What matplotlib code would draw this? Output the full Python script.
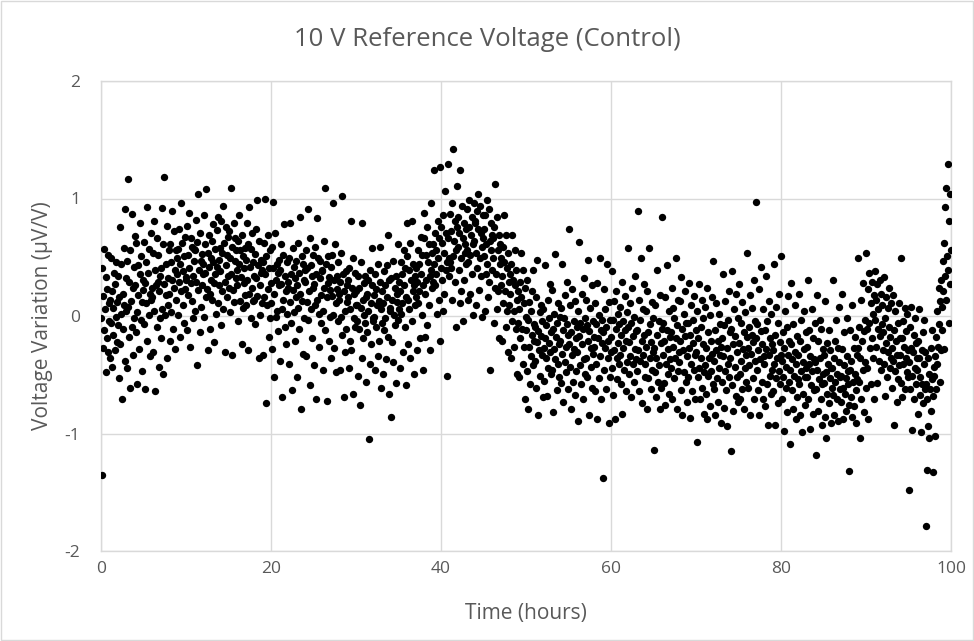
import matplotlib
matplotlib.use("Agg")
import matplotlib.pyplot as plt
from matplotlib.patches import Rectangle

# Voltage variation (uV/V), read off the chart hour by hour.
# Each inner list holds the samples logged during one hour.
hours_00_09 = [
    [-0.02, 0.41, -1.35, 0.17, -0.27, 0.57, -0.12, 0.06, -0.48, 0.33, -0.19, 0.23, 0.52, -0.31, 0.11, -0.04],
    [0.14, -0.36, 0.49, -0.06, 0.21, -0.43, 0.07, -0.16, 0.37, -0.29, 0.27, -0.01, 0.46, -0.22, 0.12, -0.08],
    [0.34, -0.53, 0.16, 0.76, -0.24, 0.02, 0.44, -0.71, 0.19, -0.11, 0.58, 0.09, -0.38, 0.91, 0.32, 0.04],
    [-0.44, 0.47, 0.08, 1.17, -0.18, 0.29, -0.61, 0.56, 0.13, -0.09, 0.87, 0.24, -0.33, 0.42, -0.02, 0.68],
    [0.26, -0.14, 0.62, 0.03, -0.58, 0.43, 0.18, -0.28, 0.79, 0.36, -0.03, 0.51, 0.12, -0.47, 0.31, 0.22],
    [0.63, -0.07, 0.28, -0.62, 0.46, 0.11, 0.93, -0.21, 0.37, 0.01, 0.57, -0.34, 0.19, 0.71, 0.14, 0.24],
    [0.16, 0.54, -0.31, 0.81, 0.04, 0.39, -0.64, 0.26, 0.66, -0.09, 0.29, 0.52, -0.43, 0.21, -0.02, 0.34],
    [0.41, -0.19, 0.92, 0.06, 0.61, -0.49, 0.27, 1.18, 0.01, 0.44, 0.18, -0.36, 0.77, 0.32, 0.09, 0.56],
    [0.19, 0.61, -0.21, 0.46, 0.03, 0.89, 0.31, -0.11, 0.72, 0.24, 0.39, -0.28, 0.56, 0.14, 0.49, 0.36],
    [0.57, 0.01, 0.74, 0.29, -0.18, 0.44, 0.96, 0.21, 0.62, 0.09, 0.38, -0.06, 0.51, 0.23, 0.67, 0.33],
]
hours_10_19 = [
    [0.31, 0.77, -0.12, 0.52, 0.18, 0.88, 0.41, -0.26, 0.66, 0.28, 0.13, 0.59, 0.34, -0.02, 0.47, 0.57],
    [0.56, 0.04, 0.82, 0.29, -0.42, 0.63, 0.22, 1.04, 0.39, -0.14, 0.71, 0.08, 0.47, 0.26, 0.53, 0.36],
    [0.44, 0.86, -0.01, 0.37, 0.61, 0.16, 1.08, 0.23, -0.29, 0.54, 0.42, 0.69, 0.19, -0.11, 0.49, 0.31],
    [0.64, 0.14, 0.46, 0.78, 0.28, -0.22, 0.57, 0.36, 0.02, 0.73, 0.42, 0.84, 0.11, 0.48, 0.26, 0.58],
    [0.38, -0.08, 0.81, 0.21, 0.54, 0.94, 0.06, 0.62, 0.29, -0.31, 0.76, 0.43, 0.16, 0.52, 0.34, 0.67],
    [0.24, 0.72, 0.03, 0.49, 1.09, 0.36, -0.33, 0.59, 0.22, 0.79, 0.12, 0.47, 0.66, 0.32, 0.56, 0.39],
    [0.26, 0.64, -0.04, 0.44, 0.86, 0.13, 0.56, 0.33, -0.24, 0.69, 0.07, 0.51, 0.28, 0.41, 0.58, 0.18],
    [0.48, 0.09, 0.79, 0.31, -0.29, 0.61, 0.19, 0.93, 0.42, -0.02, 0.57, 0.24, 0.71, 0.13, 0.46, 0.34],
    [0.14, 0.53, -0.07, 0.74, 0.32, 0.99, 0.17, 0.43, -0.36, 0.64, 0.26, 0.01, 0.48, 0.37, 0.11, 0.39],
    [0.46, -0.33, 0.62, 0.16, 1.00, 0.36, -0.74, 0.51, 0.09, 0.69, 0.23, -0.18, 0.41, -0.02, 0.56, 0.28],
]
hours_20_29 = [
    [0.11, 0.59, -0.28, 0.41, 0.97, 0.19, -0.52, 0.71, 0.31, -0.01, 0.44, 0.04, 0.37, -0.13, 0.26, 0.48],
    [0.39, -0.38, 0.27, 0.61, 0.06, -0.69, 0.52, 0.14, 0.78, -0.09, 0.34, 0.21, -0.24, 0.46, 0.02, 0.29],
    [0.24, -0.41, 0.49, 0.12, 0.79, -0.06, 0.36, -0.63, 0.22, 0.58, 0.03, 0.42, -0.21, 0.32, 0.16, 0.47],
    [-0.52, 0.26, 0.07, 0.62, 0.37, -0.11, 0.84, 0.19, -0.79, 0.51, 0.13, -0.32, 0.44, -0.02, 0.31, 0.39],
    [0.29, 0.56, -0.34, 0.12, 0.41, -0.03, 0.91, 0.21, -0.59, 0.66, 0.06, 0.43, -0.19, 0.34, 0.24, 0.52],
    [0.27, -0.42, 0.09, 0.59, 0.36, -0.71, 0.14, 0.83, 0.49, -0.26, 0.02, 0.32, 0.47, -0.06, 0.18, 0.39],
    [0.38, 0.04, -0.46, 0.64, 0.24, 1.09, -0.12, 0.44, 0.16, -0.72, 0.51, 0.28, -0.21, 0.33, -0.01, 0.22],
    [0.42, -0.36, 0.17, 0.52, 0.01, 0.96, 0.31, -0.27, 0.61, 0.11, -0.48, 0.34, 0.23, -0.04, 0.46, 0.19],
    [0.14, -0.46, 0.29, -0.01, 0.54, -0.16, 1.02, 0.36, -0.69, 0.21, 0.04, -0.31, 0.38, -0.11, 0.26, 0.12],
    [0.31, 0.16, -0.44, 0.41, -0.21, 0.06, 0.81, -0.29, 0.24, -0.66, 0.49, -0.02, 0.19, -0.09, 0.37, 0.09],
]
hours_30_39 = [
    [0.21, -0.04, 0.09, -0.51, 0.34, -0.11, 0.24, -0.76, 0.46, 0.07, -0.36, 0.79, 0.14, -0.19, 0.28, 0.01],
    [0.34, -0.06, 0.16, -0.56, 0.19, -0.14, 0.31, 0.04, -1.05, 0.39, -0.41, 0.11, -0.24, 0.58, 0.26, -0.02],
    [-0.04, 0.18, -0.01, -0.46, 0.36, -0.09, 0.23, 0.09, -0.34, 0.44, 0.13, -0.21, 0.59, 0.29, -0.61, 0.06],
    [-0.06, 0.21, 0.11, -0.49, 0.38, -0.12, 0.26, -0.02, -0.37, 0.43, 0.16, -0.18, 0.69, 0.31, -0.66, 0.04],
    [0.07, -0.86, 0.32, -0.22, 0.14, 0.47, -0.39, 0.01, 0.24, -0.08, 0.34, -0.57, 0.12, 0.19, 0.61, -0.03],
    [0.06, 0.29, 0.21, -0.44, 0.46, 0.02, 0.36, 0.11, -0.31, 0.56, 0.26, -0.09, 0.41, 0.16, -0.59, 0.79],
    [0.51, -0.24, 0.14, 0.39, 0.06, 0.62, -0.36, 0.31, 0.81, -0.04, 0.44, 0.21, -0.49, 0.26, 0.34, 0.09],
    [0.16, 0.41, 0.29, -0.29, 0.56, 0.11, 0.44, 0.21, -0.19, 0.67, 0.36, 0.01, 0.52, 0.26, -0.46, 0.88],
    [0.66, 0.19, -0.18, 0.52, 0.31, 0.76, -0.08, 0.46, 0.09, 0.61, 0.34, -0.29, 0.96, 0.39, 0.54, 0.24],
    [0.29, 0.61, 0.44, 1.24, 0.71, 0.26, 0.56, 0.36, 0.02, 0.81, 0.49, 0.14, 0.66, -0.21, 1.27, 0.41],
]
hours_40_49 = [
    [0.76, 0.31, 0.62, 0.04, 0.86, 0.54, 0.19, 1.06, 0.39, 0.71, -0.51, 0.46, 0.66, 1.29, 0.49, 0.34],
    [0.46, 0.87, 0.41, 0.72, 0.14, 0.96, 0.51, 1.42, 0.64, 0.29, 0.81, -0.09, 0.56, 1.11, 0.76, 0.59],
    [0.84, 0.39, 0.71, 0.11, 1.24, 0.49, 0.21, 0.94, 0.66, -0.04, 0.79, 0.31, 0.54, 0.61, 0.74, 0.44],
    [0.56, 0.91, 0.46, 0.14, 0.76, 0.99, 0.52, 0.19, 0.69, 0.36, 0.84, 0.01, 0.61, 0.96, 0.64, 0.81],
    [0.79, 0.54, 0.09, 0.89, 0.41, 0.74, 1.04, 0.22, 0.49, 0.94, 0.34, 0.71, -0.01, 0.59, 0.86, 0.66],
    [0.51, 0.74, 0.86, 0.04, 0.61, 0.36, 0.99, 0.44, 0.16, 0.91, 0.29, 0.64, -0.46, 0.79, 0.56, 0.69],
    [0.39, 0.66, 0.49, -0.06, 0.76, 0.24, 1.12, 0.36, 0.06, 0.84, 0.56, 0.21, -0.19, 0.69, 0.44, 0.61],
    [0.26, 0.49, 0.34, -0.21, 0.59, 0.11, 0.86, 0.46, 0.21, -0.09, 0.69, 0.41, 0.04, 0.54, -0.31, 0.29],
    [0.09, 0.36, 0.19, -0.36, 0.44, -0.04, 0.69, 0.31, 0.04, -0.26, 0.56, 0.26, -0.11, 0.39, -0.49, 0.14],
    [-0.06, 0.21, 0.06, -0.52, 0.29, -0.19, 0.54, 0.16, -0.11, -0.41, 0.39, 0.11, -0.26, 0.24, -0.71, -0.01],
]
hours_50_59 = [
    [-0.12, 0.31, -0.47, -0.03, -0.79, 0.12, -0.26, -0.58, 0.04, -0.34, 0.21, -0.16, -0.42, 0.39, -0.07, -0.21],
    [-0.38, -0.09, 0.16, -0.61, -0.22, 0.48, -0.13, -0.84, -0.29, 0.03, -0.51, -0.17, 0.09, -0.33, -0.04, -0.69],
    [0.06, -0.27, -0.55, 0.43, -0.19, -0.36, -0.08, -0.68, 0.14, -0.44, -0.23, -0.02, -0.31, 0.27, -0.49, -0.14],
    [-0.46, 0.22, -0.11, -0.82, -0.28, 0.02, -0.37, 0.53, -0.18, -0.63, -0.06, -0.41, 0.11, -0.24, -0.52, -0.01],
    [-0.21, -0.57, 0.07, -0.32, 0.44, -0.12, -0.73, -0.02, -0.39, 0.18, -0.26, -0.48, -0.07, 0.29, -0.16, -0.62],
    [0.74, -0.24, -0.43, 0.09, -0.79, -0.14, -0.33, 0.23, -0.56, -0.04, -0.28, -0.67, 0.13, -0.19, -0.47, -0.09],
    [-0.31, 0.04, -0.89, -0.17, 0.63, -0.42, -0.06, -0.58, 0.19, -0.24, -0.71, -0.11, 0.32, -0.37, -0.02, -0.49],
    [0.14, -0.36, -0.08, -0.52, 0.48, -0.21, -0.84, -0.13, 0.07, -0.43, -0.27, 0.26, -0.61, -0.04, -0.32, -0.18],
    [-0.26, -0.64, 0.11, -0.41, -0.07, -0.88, 0.28, -0.19, -0.53, 0.01, -0.34, 0.49, -0.12, -0.71, -0.23, -0.03],
    [-1.38, -0.14, 0.23, -0.46, -0.27, 0.06, -0.62, -0.09, 0.44, -0.36, -0.21, -0.91, 0.12, -0.52, -0.03, -0.31],
]
hours_60_69 = [
    [-0.18, 0.38, -0.44, -0.03, -0.67, 0.13, -0.29, -0.88, -0.11, 0.21, -0.36, -0.54, 0.02, -0.23, -0.07, -0.41],
    [-0.33, 0.08, -0.58, -0.16, 0.29, -0.83, -0.04, -0.27, -0.46, 0.17, -0.12, -0.64, -0.21, 0.03, -0.39, -0.09],
    [0.58, -0.22, -0.49, 0.11, -0.34, -0.06, -0.69, 0.24, -0.17, -0.41, -0.01, -0.56, 0.34, -0.28, -0.13, -0.37],
    [-0.12, -0.47, 0.89, -0.29, 0.14, -0.64, -0.03, -0.38, 0.49, -0.21, -0.74, 0.06, -0.33, -0.16, 0.27, -0.52],
    [-0.41, 0.04, -0.26, -0.79, 0.21, -0.53, -0.14, 0.58, -0.36, -0.07, -0.62, -0.22, 0.12, -0.46, -0.31, -0.02],
    [-0.27, -1.14, -0.48, 0.09, -0.36, -0.69, -0.16, 0.39, -0.56, -0.04, -0.42, -0.79, 0.18, -0.23, -0.61, -0.11],
    [0.84, -0.33, -0.06, -0.57, -0.21, 0.16, -0.76, -0.41, 0.43, -0.12, -0.49, -0.28, 0.04, -0.66, -0.18, -0.37],
    [-0.14, -0.44, 0.24, -0.71, -0.26, 0.07, -0.53, -0.02, -0.36, 0.49, -0.19, -0.79, -0.08, 0.14, -0.47, -0.31],
    [-0.39, 0.13, -0.21, -0.63, 0.33, -0.11, -0.84, -0.29, 0.02, -0.48, -0.17, 0.21, -0.56, -0.06, -0.34, -0.73],
    [-0.06, -0.52, -0.27, 0.28, -0.87, -0.16, -0.41, 0.09, -0.64, -0.23, -0.03, -0.46, 0.17, -0.33, -0.71, -0.12],
]
hours_70_79 = [
    [-0.31, -1.07, 0.04, -0.52, -0.19, 0.27, -0.44, -0.71, -0.09, -0.36, 0.14, -0.61, -0.24, -0.02, -0.48, -0.83],
    [-0.42, 0.08, -0.66, -0.27, -0.88, 0.24, -0.14, -0.51, -0.36, 0.01, -0.77, -0.21, -0.47, 0.16, -0.32, -0.58],
    [0.47, -0.38, -0.62, -0.12, -0.84, -0.29, 0.11, -0.53, -0.21, -0.73, 0.02, -0.44, -0.33, -0.07, -0.91, -0.26],
    [-0.19, -0.56, 0.36, -0.34, -0.78, -0.08, -0.47, 0.13, -0.63, -0.27, -0.94, -0.03, -0.41, 0.21, -0.52, -0.14],
    [-0.36, -1.15, -0.11, 0.38, -0.59, -0.24, -0.81, 0.06, -0.43, -0.17, -0.68, 0.19, -0.31, -0.52, -0.02, -0.73],
    [-0.23, 0.27, -0.49, -0.71, -0.06, -0.38, 0.12, -0.62, -0.28, -0.79, -0.14, 0.03, -0.44, -0.33, -0.56, -0.18],
    [0.54, -0.27, -0.61, -0.09, -0.42, 0.18, -0.84, -0.32, -0.16, 0.07, -0.53, -0.22, -0.71, 0.31, -0.38, -0.04],
    [-0.19, 0.97, -0.46, -0.07, -0.63, -0.29, 0.23, -0.84, -0.37, 0.42, -0.13, -0.56, -0.24, 0.06, -0.71, -0.34],
    [-0.41, -0.12, -0.77, 0.34, -0.28, -0.58, -0.04, -0.93, -0.33, 0.13, -0.51, -0.19, -0.66, 0.02, -0.46, -0.24],
    [-0.29, -0.64, 0.44, -0.41, -0.93, -0.16, -0.53, 0.08, -0.36, -0.74, -0.06, -0.47, 0.19, -0.22, -0.58, -0.33],
]
hours_80_89 = [
    [0.51, -0.38, -0.71, -0.14, -0.52, -0.98, -0.27, 0.04, -0.61, -0.43, -0.09, -0.82, -0.33, 0.17, -0.56, -0.21],
    [-0.46, -1.09, -0.24, 0.28, -0.63, -0.37, -0.79, -0.07, -0.51, -0.31, 0.09, -0.88, -0.41, -0.17, -0.69, -0.54],
    [-0.33, 0.19, -0.58, -0.84, -0.21, -0.47, -0.03, -0.99, -0.39, -0.66, 0.04, -0.28, -0.52, -0.76, -0.14, -0.44],
    [-0.52, -0.26, 0.31, -0.71, -0.41, -0.12, -0.96, -0.34, -0.59, 0.06, -0.47, -0.83, -0.19, -0.63, -0.37, -0.06],
    [-0.39, -1.18, -0.62, 0.18, -0.46, -0.21, -0.81, -0.54, -0.03, -0.36, -0.71, -0.11, -0.58, -0.93, -0.28, -0.49],
    [-0.57, -0.33, -0.86, 0.13, -0.48, -1.04, -0.23, -0.66, -0.41, -0.12, -0.74, -0.53, -0.29, -0.91, -0.44, -0.61],
    [-0.44, 0.31, -0.67, -0.36, -0.84, -0.21, -0.56, -0.03, -0.71, -0.49, -0.27, -0.89, -0.39, 0.08, -0.62, -0.52],
    [-0.51, -0.73, -0.28, 0.19, -0.61, -0.88, -0.42, -0.14, -0.66, -0.53, -0.81, -0.34, -0.02, -0.58, -0.47, -0.76],
    [-1.32, -0.46, -0.12, -0.69, -0.38, -0.86, 0.09, -0.56, -0.27, -0.77, -0.49, -0.18, -0.63, -0.91, -0.33, -0.54],
    [-0.27, 0.49, -0.56, -0.09, -1.04, -0.36, 0.14, -0.71, -0.21, -0.46, 0.28, -0.82, -0.13, -0.39, -0.03, -0.61],
]
hours_90_99 = [
    [0.54, -0.11, -0.44, 0.23, -0.88, -0.06, 0.37, -0.27, -0.58, 0.11, -0.19, 0.29, -0.36, 0.02, -0.71, 0.18],
    [-0.03, 0.38, -0.26, 0.14, -0.57, 0.27, -0.11, 0.06, -0.38, 0.31, -0.17, -0.46, 0.19, -0.07, 0.09, -0.29],
    [-0.14, 0.33, -0.41, -0.02, -0.68, 0.16, -0.23, -0.52, 0.07, -0.31, 0.24, -0.09, -0.44, -0.18, 0.11, -0.36],
    [-0.27, -0.61, 0.18, -0.38, -0.93, -0.12, -0.47, 0.04, -0.21, -0.73, -0.33, -0.06, -0.54, 0.11, -0.42, -0.19],
    [-0.33, 0.49, -0.57, -0.19, -0.69, -0.04, -0.41, -0.26, 0.07, -0.62, -0.36, -0.13, -0.48, 0.02, -0.29, -0.52],
    [-1.48, -0.39, -0.09, -0.62, -0.27, 0.08, -0.51, -0.97, -0.31, -0.16, -0.71, -0.44, -0.02, -0.58, -0.23, -0.36],
    [-0.46, -0.21, -0.83, -0.36, 0.06, -0.67, -0.52, -0.99, -0.29, -0.58, -0.14, -0.74, -0.41, -0.03, -0.62, -0.31],
    [-1.79, -0.58, -1.31, -0.71, -0.36, -0.94, -0.49, -1.04, -0.62, -0.27, -0.81, -0.54, -0.12, -0.68, -1.33, -0.43],
    [-0.51, -0.34, -1.02, -0.18, -0.62, 0.04, -0.41, -0.26, 0.24, -0.07, -0.56, 0.13, -0.29, 0.31, 0.08, -0.12],
    [0.21, 0.47, -0.28, 0.62, 0.93, 0.34, 1.09, 0.14, 0.51, 1.29, 0.39, -0.06, 0.81, 1.04, 0.27, 0.56],
]

x_ticks = [0, 20, 40, 60, 80, 100]
y_ticks = [-2, -1, 0, 1, 2]
title = "10 V Reference Voltage (Control)"
x_label = "Time (hours)"
y_label = "Voltage Variation (µV/V)"

# samples are logged at a fixed rate inside each hour
blocks = [hours_00_09, hours_10_19, hours_20_29, hours_30_39, hours_40_49,
          hours_50_59, hours_60_69, hours_70_79, hours_80_89, hours_90_99]
hourly = [h for block in blocks for h in block]
times, volts = [], []
for hour, samples in enumerate(hourly):
    n = len(samples)
    for i, v in enumerate(samples):
        times.append(hour + (i + 0.5) / n)
        volts.append(v)

plt.rcParams["font.family"] = ["Open Sans", "DejaVu Sans"]
plt.rcParams["axes.unicode_minus"] = False
grey_text = "#595959"
grid_col = "#d9d9d9"

fig = plt.figure(figsize=(9.74, 6.41), dpi=100)
ax = fig.add_axes([101 / 974, 1 - 551 / 641, 850 / 974, 470 / 641])

ax.scatter(times, volts, s=28, color="black", linewidths=0, zorder=3)

ax.set_xlim(0, 100)
ax.set_ylim(-2, 2)
ax.set_xticks(x_ticks)
ax.set_yticks(y_ticks)
ax.grid(True, color=grid_col, linewidth=1, zorder=0)
for spine in ax.spines.values():
    spine.set_color(grid_col)
    spine.set_linewidth(1)
ax.tick_params(length=0, labelsize=12.5, colors=grey_text)
ax.tick_params(axis="x", pad=7)
ax.tick_params(axis="y", pad=15)

# chart title is centred on the whole chart, not the plot area
fig.text(0.5, 1 - 40 / 641, title, fontsize=18.5, color=grey_text,
         ha="center", va="center")
ax.set_xlabel(x_label, fontsize=15, color=grey_text, labelpad=19)
ax.set_ylabel(y_label, fontsize=15, color=grey_text, labelpad=8)

fig.patches.append(Rectangle((0.001, 0.001), 0.998, 0.998, transform=fig.transFigure,
                             fill=False, edgecolor=grid_col, linewidth=1))

fig.savefig("out.png", dpi=100)
